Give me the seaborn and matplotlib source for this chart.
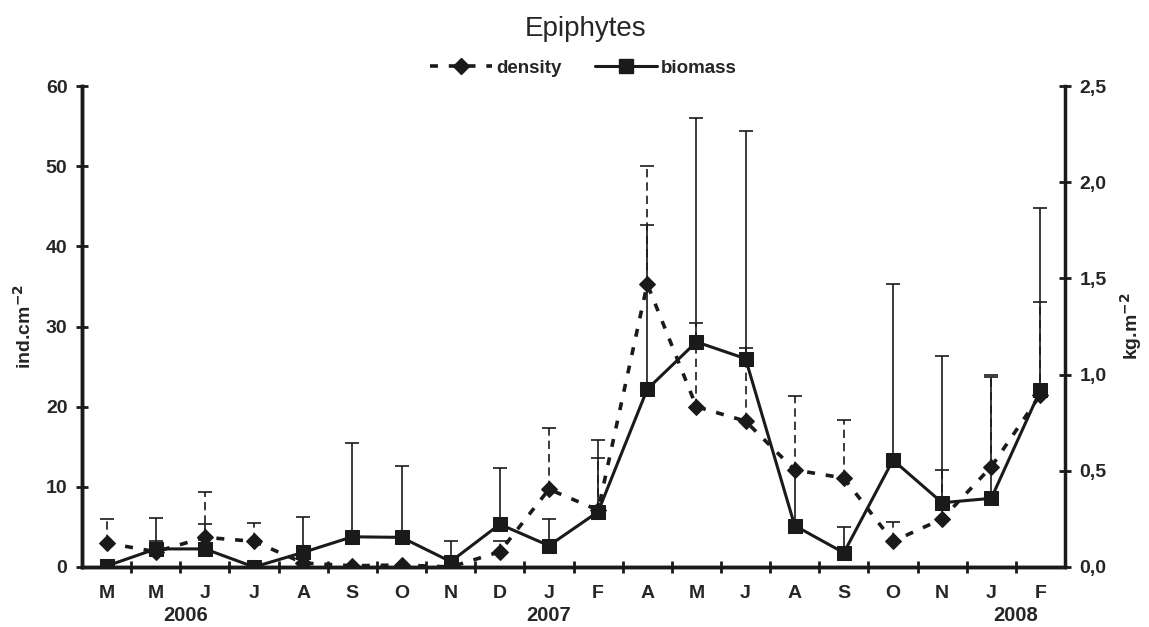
import numpy as np
import pandas as pd
import seaborn as sns
import matplotlib.pyplot as plt
import matplotlib.transforms as mtransforms
from matplotlib.lines import Line2D

# month labels, Mar 2006 .. Feb 2008 (sampling months only)
months = ["M", "M", "J", "J", "A", "S", "O", "N", "D", "J",
          "F", "A", "M", "J", "A", "S", "O", "N", "J", "F"]
years = ["2006", "2007", "2008"]
year_pos = [1.6, 9.0, 18.5]

# density (ind.cm-2), left axis
density = [3.0, 1.9, 3.7, 3.2, 0.5, 0.15, 0.25, 0.0, 1.9, 9.7,
           7.1, 35.3, 20.0, 18.2, 12.1, 11.1, 3.2, 6.0, 12.5, 21.5]
# top of density error bars
density_top = [6.0, 3.3, 9.4, 5.5, 0.5, 0.15, 0.25, 0.0, 3.3, 17.3,
               13.6, 50.0, 30.5, 27.3, 21.3, 18.3, 5.65, 12.1, 24.0, 33.0]

# biomass (kg.m-2), right axis
biomass = [0.005, 0.094, 0.094, 0.0, 0.076, 0.157, 0.154, 0.028, 0.222, 0.111,
           0.287, 0.924, 1.17, 1.083, 0.215, 0.074, 0.556, 0.334, 0.357, 0.92]
# top of biomass error bars
biomass_top = [0.005, 0.255, 0.225, 0.0, 0.26, 0.646, 0.525, 0.134, 0.516, 0.248,
               0.66, 1.776, 2.335, 2.265, 0.5, 0.21, 1.471, 1.097, 0.99, 1.865]

sns.set_theme(style="ticks")
plt.rcParams['font.family'] = ['Liberation Sans', 'DejaVu Sans']
plt.rcParams['font.weight'] = 'bold'

ink = "#1a1a1a"
x = np.arange(len(months))
df = pd.DataFrame({"x": x, "density": density, "biomass": biomass})

fig = plt.figure(figsize=(11.49, 6.27), dpi=100)
ax1 = fig.add_axes([0.0714, 0.0957, 0.8555, 0.7671])
ax2 = ax1.twinx()

# error bars first (upper only)
d_err = np.array(density_top) - np.array(density)
eb = ax1.errorbar(x, density, yerr=[np.zeros_like(d_err), d_err], fmt="none",
                  ecolor=ink, elinewidth=1.2, capsize=5, capthick=1.2, zorder=2)
for lc in eb[2]:
    lc.set_linestyle((0, (5, 3)))

b_err = np.array(biomass_top) - np.array(biomass)
ax2.errorbar(x, biomass, yerr=[np.zeros_like(b_err), b_err], fmt="none",
             ecolor=ink, elinewidth=1.2, capsize=5, capthick=1.2, zorder=2)

sns.lineplot(data=df, x="x", y="density", ax=ax1, color=ink, lw=2.6,
             marker="D", markersize=8.5, markeredgecolor=ink, zorder=3)
ax1.lines[-1].set_dashes((2.2, 3.0))
sns.lineplot(data=df, x="x", y="biomass", ax=ax2, color=ink, lw=2.2,
             marker="s", markersize=10.5, markeredgecolor=ink, zorder=3)

ax1.set_xlim(-0.5, len(months) - 0.5)
ax1.set_ylim(0, 60)
ax2.set_ylim(0, 2.5)
ax1.set_yticks(range(0, 61, 10))
ax2.set_yticks(np.arange(0, 2.51, 0.5))
ax2.set_yticklabels([f"{v:.1f}".replace(".", ",") for v in np.arange(0, 2.51, 0.5)])

ax1.set_xticks(x)
ax1.set_xticklabels(months)
ax1.set_xticks(x[:-1] + 0.5, minor=True)
ax1.tick_params(axis="x", which="major", length=0, pad=13, labelsize=14)
ax1.tick_params(axis="x", which="minor", length=8, width=2, direction="inout", color=ink)
ax1.tick_params(axis="y", length=9, width=2, direction="inout", color=ink, labelsize=14, pad=6)
ax2.tick_params(axis="y", length=9, width=2, direction="inout", color=ink, labelsize=14, pad=6)

for a in (ax1, ax2):
    a.spines["top"].set_visible(False)
    for s in ("left", "right", "bottom"):
        a.spines[s].set_linewidth(2.5)
        a.spines[s].set_color(ink)
    a.grid(False)
ax1.spines["right"].set_visible(False)

ax1.set_xlabel("")
ax1.set_ylabel("ind.cm$^{\\mathbf{-2}}$", fontsize=14, fontweight="bold", labelpad=8)
ax2.set_ylabel("kg.m$^{\\mathbf{-2}}$", fontsize=14, fontweight="bold", labelpad=8)

trans = mtransforms.blended_transform_factory(ax1.transData, ax1.transAxes)
for yr, pos in zip(years, year_pos):
    ax1.text(pos, -0.1, yr, transform=trans, ha="center", va="center",
             fontsize=14.5, fontweight="bold")

fig.suptitle("Epiphytes", x=0.51, y=0.975, fontsize=20, fontweight="normal")

handles = [
    Line2D([], [], color=ink, lw=2.6, dashes=(2.2, 3.0), marker="D", markersize=8),
    Line2D([], [], color=ink, lw=2.2, marker="s", markersize=10),
]
ax1.legend(handles, ["density", "biomass"], loc="lower center",
           bbox_to_anchor=(0.51, 1.0), ncol=2, frameon=False, handlelength=3.3,
           handletextpad=0.2, columnspacing=1.8, borderaxespad=0.1,
           prop={"size": 13.5, "weight": "bold"})

fig.savefig("out.png", dpi=100)
